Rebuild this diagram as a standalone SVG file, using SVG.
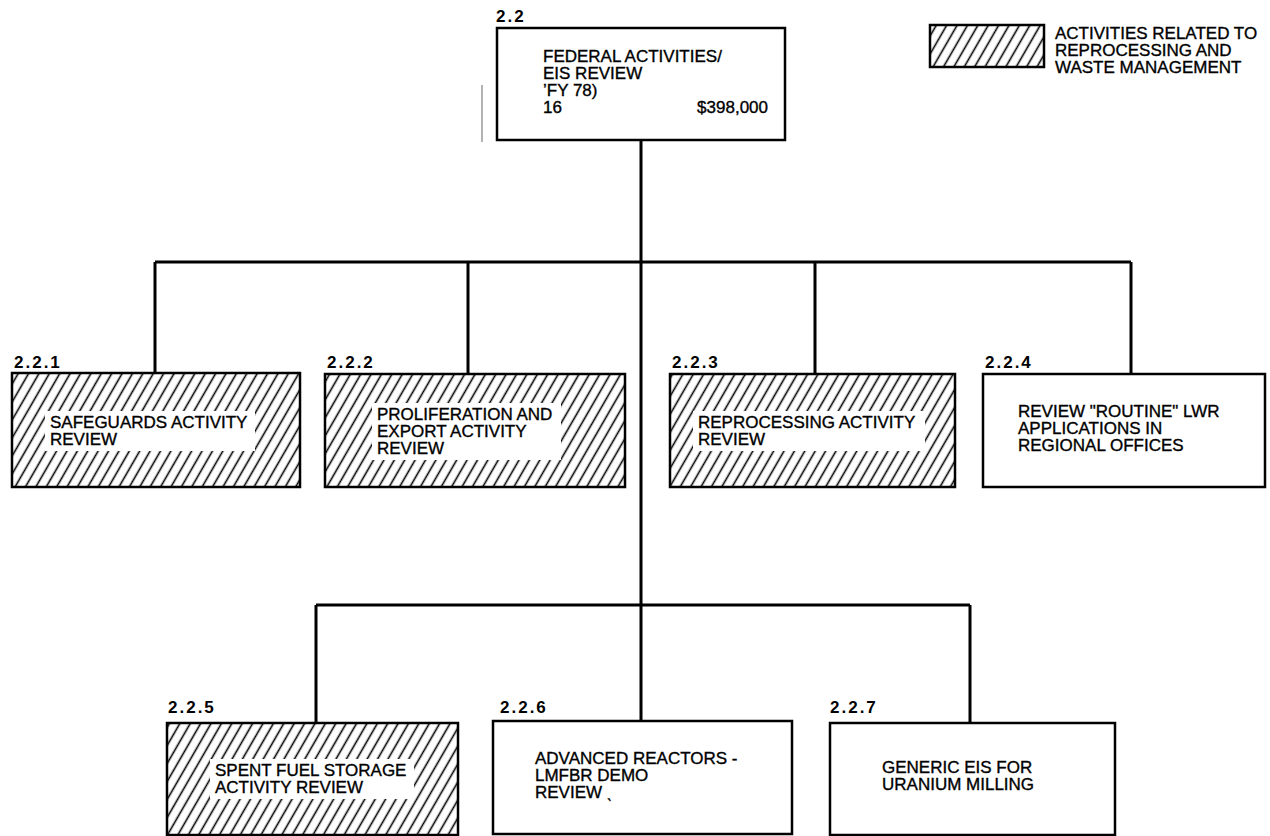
<svg xmlns="http://www.w3.org/2000/svg" width="1270" height="836" viewBox="0 0 1270 836">
<style>
.box{fill:#fff;stroke:#000;stroke-width:2.5}
.hbox{fill:url(#hatch);stroke:#000;stroke-width:2.5}
.t{font-family:"Liberation Sans",Arial,sans-serif;font-size:17px;fill:#000;stroke:#000;stroke-width:0.35}
.lbl{font-family:"Liberation Sans",Arial,sans-serif;font-size:17px;font-weight:bold;letter-spacing:2px;fill:#000}
.clr{fill:#fff;stroke:none}
.con{stroke:#000;stroke-width:3;fill:none}
</style>
<defs>
<pattern id="hatch" patternUnits="userSpaceOnUse" width="9" height="9" patternTransform="rotate(30)">
<rect width="9" height="9" fill="#fff"/>
<line x1="4.5" y1="-1" x2="4.5" y2="10" stroke="#000" stroke-width="1.6"/>
</pattern>
</defs>

<g id="connectors">
<path class="con" d="M641 140 V721"/>
<path class="con" d="M155 262 H1131"/>
<path class="con" d="M155 262 V374 M468 262 V374 M815 262 V374 M1131 262 V374"/>
<path class="con" d="M316 605 H970"/>
<path class="con" d="M316 605 V723 M970 605 V723"/>
</g>

<line x1="482" y1="85" x2="482" y2="142" stroke="#999" stroke-width="1.5"/>

<g id="legend">
<rect class="hbox" x="930" y="25" width="114" height="42"/>
<text class="t" x="1055" y="39">ACTIVITIES RELATED TO</text>
<text class="t" x="1055" y="56">REPROCESSING AND</text>
<text class="t" x="1055" y="73">WASTE MANAGEMENT</text>
</g>

<g id="n2.2">
<text class="lbl" x="496" y="22">2.2</text>
<rect class="box" x="497" y="28" width="288" height="112"/>
<text class="t" x="543" y="62">FEDERAL ACTIVITIES/</text>
<text class="t" x="543" y="79">EIS REVIEW</text>
<text class="t" x="543" y="96">’FY 78)</text>
<text class="t" x="543" y="113">16</text>
<text class="t" x="768" y="113" text-anchor="end">$398,000</text>
</g>

<g id="n2.2.1">
<text class="lbl" x="14" y="368">2.2.1</text>
<rect class="hbox" x="12" y="373" width="288" height="114"/>
<rect class="clr" x="45" y="411" width="210" height="40"/>
<text class="t" x="50" y="428">SAFEGUARDS ACTIVITY</text>
<text class="t" x="50" y="445">REVIEW</text>
</g>

<g id="n2.2.2">
<text class="lbl" x="327" y="368">2.2.2</text>
<rect class="hbox" x="325" y="374" width="300" height="113"/>
<rect class="clr" x="372" y="403" width="189" height="57"/>
<text class="t" x="377" y="420">PROLIFERATION AND</text>
<text class="t" x="377" y="437">EXPORT ACTIVITY</text>
<text class="t" x="377" y="454">REVIEW</text>
</g>

<g id="n2.2.3">
<text class="lbl" x="672" y="368">2.2.3</text>
<rect class="hbox" x="670" y="374" width="285" height="113"/>
<rect class="clr" x="693" y="411" width="232" height="40"/>
<text class="t" x="698" y="428">REPROCESSING ACTIVITY</text>
<text class="t" x="698" y="445">REVIEW</text>
</g>

<g id="n2.2.4">
<text class="lbl" x="985" y="368">2.2.4</text>
<rect class="box" x="983" y="374" width="282" height="113"/>
<text class="t" x="1018" y="417">REVIEW "ROUTINE" LWR</text>
<text class="t" x="1018" y="434">APPLICATIONS IN</text>
<text class="t" x="1018" y="451">REGIONAL OFFICES</text>
</g>

<g id="n2.2.5">
<text class="lbl" x="168" y="713">2.2.5</text>
<rect class="hbox" x="167" y="723" width="291" height="112"/>
<rect class="clr" x="210" y="759" width="204" height="40"/>
<text class="t" x="215" y="776">SPENT FUEL STORAGE</text>
<text class="t" x="215" y="793">ACTIVITY REVIEW</text>
</g>

<g id="n2.2.6">
<text class="lbl" x="500" y="713">2.2.6</text>
<rect class="box" x="493" y="721" width="299" height="113"/>
<text class="t" x="535" y="764">ADVANCED REACTORS -</text>
<text class="t" x="535" y="781">LMFBR DEMO</text>
<text class="t" x="535" y="798">REVIEW ˎ</text>
</g>

<g id="n2.2.7">
<text class="lbl" x="830" y="713">2.2.7</text>
<rect class="box" x="830" y="723" width="285" height="112"/>
<text class="t" x="882" y="773">GENERIC EIS FOR</text>
<text class="t" x="882" y="790">URANIUM MILLING</text>
</g>
</svg>
